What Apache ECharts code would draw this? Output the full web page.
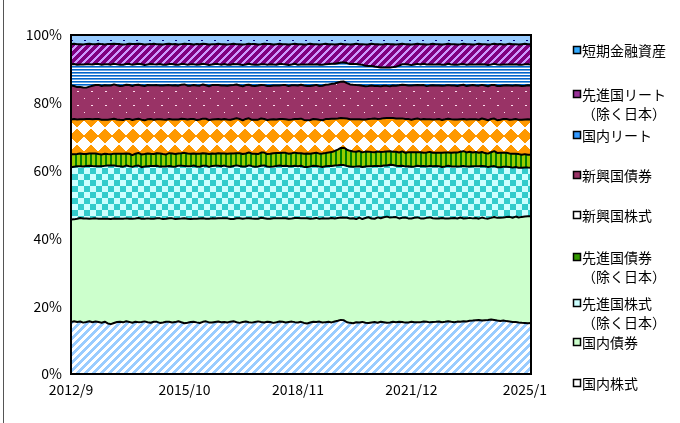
<!DOCTYPE html>
<html><head><meta charset="utf-8">
<script src="https://cdn.jsdelivr.net/npm/echarts@6/dist/echarts.min.js"></script>
<style>html,body{margin:0;padding:0;background:#fff}#c{width:680px;height:423px}</style>
</head><body><div id="c"></div>
<script>
// ---- data (monthly, 2012/9 .. 2025/3), asset allocation in % ----
const startYear = 2012, startMonth = 9, monthCount = 151;
const tickLabels = ['2012/9','2015/10','2018/11','2021/12','2025/1'];
const yTicks = ['0%','20%','40%','60%','80%','100%'];

const seriesNames = ['国内株式','国内債券','先進国株式（除く日本）','先進国債券（除く日本）','新興国株式','新興国債券','国内リート','先進国リート（除く日本）','短期金融資産'];
const legendLabels = ['国内株式','国内債券','先進国株式\n（除く日本）','先進国債券\n（除く日本）','新興国株式','新興国債券','国内リート','先進国リート\n（除く日本）','短期金融資産'];

const domesticEquity = [
15.3,15.6,15.4,15.5,15.2,15.4,15.6,15.3,15.5,15.4,15.2,15.5,
15.0,14.8,15.1,15.4,15.5,15.3,15.6,15.4,15.2,15.5,15.3,15.4,
15.6,15.3,15.2,15.5,15.4,15.1,15.3,15.5,15.4,15.2,15.4,15.6,
15.3,15.0,15.2,15.4,15.5,15.3,15.1,15.4,15.6,15.3,15.2,15.4,
15.5,15.3,15.4,15.2,15.5,15.6,15.3,15.1,15.4,15.5,15.3,15.2,
15.4,15.6,15.3,15.2,15.5,15.4,15.1,15.3,15.5,15.4,15.2,15.4,
15.5,15.3,15.2,15.4,15.1,14.9,15.2,15.4,15.3,15.5,15.2,15.3,
15.4,15.2,15.5,15.7,15.9,15.8,15.3,15.1,15.0,15.3,15.2,15.4,
15.1,15.0,15.2,15.3,15.1,15.4,15.2,15.0,15.1,15.3,15.2,15.4,
15.3,15.1,15.2,15.4,15.3,15.2,15.3,15.5,15.4,15.2,15.3,15.4,
15.5,15.3,15.4,15.6,15.4,15.3,15.5,15.4,15.6,15.5,15.7,15.8,
15.9,16.0,15.8,15.9,16.0,16.1,15.9,15.8,15.7,15.8,15.6,15.5,
15.4,15.3,15.2,15.1,15.0,14.9,15.0];
const domesticBond = [
30.3,30.2,30.5,30.6,30.8,30.7,30.4,30.6,30.5,30.6,30.8,30.5,
31.0,31.2,30.9,30.6,30.5,30.7,30.4,30.5,30.8,30.6,30.7,30.6,
30.4,30.7,30.8,30.5,30.6,30.9,30.7,30.5,30.6,30.8,30.6,30.4,
30.7,31.0,30.8,30.5,30.5,30.7,30.9,30.6,30.4,30.7,30.8,30.6,
30.5,30.7,30.6,30.8,30.4,30.3,30.7,30.9,30.6,30.5,30.7,30.8,
30.6,30.4,30.7,30.8,30.5,30.6,30.9,30.7,30.5,30.6,30.8,30.6,
30.5,30.7,30.8,30.6,30.9,31.0,30.7,30.5,30.7,30.4,30.8,30.6,
30.5,30.8,30.4,30.3,30.1,30.2,30.9,30.8,31.0,30.5,30.9,30.4,
30.9,31.1,30.6,30.4,31.0,30.5,30.8,31.1,30.7,30.6,30.9,30.4,
30.6,30.9,30.7,30.5,30.8,30.9,30.6,30.4,30.7,30.9,30.6,30.5,
30.4,30.8,30.5,30.3,30.6,30.8,30.5,30.7,30.3,30.5,30.4,30.2,
30.2,30.0,30.3,30.1,30.1,30.0,30.3,30.4,30.6,30.4,30.7,30.9,
30.8,31.0,30.9,31.2,31.3,31.5,31.5];
const developedEquity = [
15.4,15.6,15.5,15.3,15.4,15.6,15.7,15.5,15.4,15.6,15.5,15.7,
15.8,15.9,15.7,15.6,15.5,15.4,15.6,15.5,15.4,15.6,15.5,15.3,
15.5,15.4,15.6,15.7,15.5,15.3,15.6,15.5,15.4,15.3,15.5,15.7,
15.6,15.4,15.5,15.6,15.8,15.5,15.3,15.5,15.7,15.4,15.5,15.6,
15.5,15.4,15.6,15.3,15.5,15.7,15.6,15.4,15.5,15.3,15.6,15.5,
15.4,15.5,15.3,15.6,15.5,15.4,15.3,15.5,15.6,15.4,15.5,15.6,
15.5,15.4,15.3,15.5,15.2,15.1,15.4,15.6,15.3,15.5,15.2,15.4,
15.5,15.3,15.6,15.5,15.4,15.5,15.3,15.4,15.2,15.5,15.1,15.4,
15.2,15.0,15.4,15.5,15.1,15.3,15.2,15.0,15.4,15.3,15.1,15.4,
15.3,15.0,15.4,15.3,15.1,15.2,15.4,15.5,15.2,15.1,15.3,15.5,
15.4,15.1,15.4,15.6,15.3,15.2,15.4,15.1,15.5,15.3,15.2,15.4,
15.3,15.5,15.2,15.4,15.3,15.2,15.0,15.0,14.9,15.0,14.8,14.7,
14.8,14.6,14.7,14.5,14.4,14.3,14.3];
const developedBond = [
3.8,3.7,3.6,3.8,3.7,3.5,3.6,3.7,3.8,3.6,3.5,3.6,
3.4,3.3,3.5,3.6,3.7,3.8,3.6,3.7,3.5,3.6,3.7,3.8,
3.7,3.8,3.6,3.5,3.7,3.9,3.7,3.6,3.8,3.9,3.8,3.6,
3.7,3.9,3.8,3.7,3.6,3.8,3.9,3.7,3.6,3.8,3.7,3.6,
3.7,3.8,3.6,3.8,3.9,3.7,3.6,3.8,3.7,3.9,3.8,3.7,
3.8,3.7,3.9,3.8,3.7,3.8,3.9,3.8,3.7,3.9,3.8,3.7,
3.8,3.9,3.8,3.7,3.9,4.0,3.8,3.7,3.9,3.8,4.0,3.9,
4.0,4.1,4.3,4.6,5.0,5.1,4.8,4.6,4.5,4.4,4.5,4.3,
4.4,4.3,4.2,4.1,4.3,4.2,4.0,4.1,4.0,3.9,4.1,4.0,
4.2,4.0,4.1,4.3,4.2,4.0,4.1,3.9,4.1,4.2,4.0,3.9,
4.0,4.2,4.1,3.9,4.0,4.2,4.1,4.3,4.4,4.2,4.3,4.1,
4.2,4.0,4.1,3.9,4.0,4.2,4.4,4.2,4.3,4.1,4.2,4.0,
4.1,3.9,4.0,3.8,3.9,3.8,3.8];
const emergingEquity = [
10.3,10.4,10.2,10.1,10.3,10.4,10.2,10.1,10.2,10.4,10.3,10.1,
10.2,10.4,10.3,10.2,10.1,10.0,10.2,10.3,10.4,10.2,10.1,10.3,
10.0,10.1,10.3,10.2,10.0,10.1,10.2,10.3,10.1,10.0,10.2,10.1,
10.2,10.0,10.1,10.3,10.2,10.0,10.1,10.2,10.3,10.1,10.0,10.2,
10.1,10.0,10.2,10.1,10.0,10.2,10.3,10.1,10.0,10.2,10.1,10.0,
10.1,10.2,10.0,9.9,10.1,10.2,10.0,9.9,10.1,10.0,9.9,10.1,
10.0,9.9,10.1,10.2,10.0,9.8,10.0,10.1,9.9,10.0,9.8,10.0,
9.9,9.8,9.5,9.2,8.8,8.7,9.2,9.3,9.5,9.6,9.4,9.7,
9.5,9.6,9.8,9.9,9.6,9.8,9.9,9.8,9.7,9.9,9.8,10.0,
9.7,9.9,9.8,9.6,9.8,9.9,9.7,10.0,9.8,9.6,9.8,9.9,
9.9,9.7,9.8,10.0,9.9,9.7,9.8,9.6,9.5,9.7,9.6,9.8,
9.7,9.8,9.9,10.0,9.9,9.8,9.6,9.7,9.8,10.0,9.9,10.0,
10.1,10.2,10.1,10.3,10.2,10.4,10.4];
const emergingBond = [
10.0,9.8,9.6,9.5,9.4,9.3,9.6,9.9,10.0,10.1,10.0,10.2,
10.1,10.0,10.2,10.1,10.0,10.2,10.1,10.0,10.1,10.2,10.0,10.1,
10.2,10.1,10.0,10.2,10.1,10.0,10.1,10.2,10.0,10.1,10.2,10.0,
10.1,10.2,10.0,9.9,10.1,10.2,10.0,10.1,9.9,10.0,10.2,10.1,
10.0,10.1,9.9,10.0,10.2,10.1,10.0,9.9,10.1,10.0,9.9,10.1,
10.0,10.1,9.9,10.0,10.1,9.9,10.0,10.1,9.9,10.0,10.1,10.0,
10.1,10.0,9.9,10.0,10.2,10.1,10.0,9.9,10.1,10.0,10.2,10.1,
10.2,10.3,10.4,10.6,10.7,10.8,10.5,10.3,10.2,10.1,10.0,10.0,
9.8,9.7,9.8,9.6,9.7,9.6,9.5,9.4,9.3,9.5,9.6,9.8,
9.9,10.0,9.9,10.1,10.0,9.9,10.1,10.0,9.8,9.9,10.1,10.0,
9.9,10.1,10.0,9.9,10.0,10.1,9.9,10.0,10.1,9.9,10.0,10.1,
10.0,10.1,9.9,10.0,10.1,10.0,9.9,10.1,10.0,9.9,10.0,10.1,
10.0,9.9,10.1,10.0,9.9,10.0,10.0];
const domesticReit = [
6.3,6.5,6.6,6.7,6.8,6.9,6.6,6.3,6.2,6.2,6.3,6.2,
6.3,6.2,6.1,6.2,6.3,6.2,6.1,6.2,6.3,6.1,6.2,6.3,
6.2,6.1,6.3,6.2,6.1,6.3,6.2,6.1,6.2,6.3,6.1,6.2,
6.1,6.0,6.2,6.3,6.1,6.2,6.3,6.1,6.2,6.3,6.1,6.2,
6.2,6.1,6.3,6.2,6.1,6.2,6.0,6.2,6.3,6.1,6.2,6.3,
6.3,6.2,6.1,6.2,6.3,6.4,6.2,6.1,6.3,6.2,6.1,6.2,
6.2,6.3,6.1,6.0,6.2,6.3,6.4,6.2,6.1,6.3,6.2,6.1,
6.0,5.9,5.8,5.7,5.6,5.6,5.9,6.0,6.1,6.2,6.1,6.2,
6.0,5.9,5.8,5.7,5.6,5.5,5.4,5.4,5.5,5.4,5.6,5.8,
6.0,6.1,6.2,6.0,6.1,6.2,6.1,6.3,6.4,6.2,6.1,6.2,
6.3,6.2,6.1,6.3,6.2,6.1,6.3,6.2,6.1,6.3,6.2,6.1,
6.2,6.3,6.1,6.2,6.3,6.1,6.2,6.4,6.3,6.2,6.1,6.2,
6.3,6.2,6.1,6.2,6.3,6.2,6.2];
const developedReit = [
5.9,6.0,6.1,6.0,5.9,6.0,6.1,6.0,5.9,6.0,6.1,5.9,
6.0,6.1,5.9,6.0,6.1,6.0,5.9,6.0,6.1,6.0,5.9,6.0,
6.1,6.0,5.9,6.1,6.0,5.9,6.0,6.1,6.0,5.9,6.1,6.0,
5.9,6.0,6.1,6.0,5.9,6.1,6.0,5.9,6.0,6.1,6.0,5.9,
6.0,6.1,5.9,6.0,6.1,6.0,5.9,6.0,6.1,6.0,5.9,6.0,
6.1,6.0,5.9,6.0,6.1,6.0,5.9,6.1,6.0,5.9,6.0,6.1,
6.0,5.9,6.1,6.0,5.9,6.0,6.1,6.0,5.9,6.0,6.1,6.0,
5.9,5.8,5.7,5.6,5.5,5.4,5.6,5.8,5.9,6.0,6.0,6.1,
6.3,6.4,6.5,6.6,6.7,6.8,6.8,6.9,6.8,6.7,6.5,6.3,
6.0,5.9,6.0,6.1,6.0,5.9,6.0,5.8,5.9,6.0,6.1,6.0,
5.9,6.0,6.1,5.9,6.0,6.1,6.0,5.9,6.0,6.1,6.0,5.9,
6.0,6.1,5.9,6.0,6.1,6.0,5.9,6.0,6.1,5.9,6.0,6.1,
6.0,5.9,6.0,6.1,6.0,5.9,6.0];
const shortTerm = [
2.7,2.6,2.7,2.7,2.8,2.7,2.6,2.7,2.7,2.6,2.7,2.8,
2.7,2.7,2.6,2.7,2.7,2.8,2.7,2.6,2.7,2.7,2.6,2.7,
2.8,2.7,2.7,2.6,2.7,2.7,2.8,2.7,2.6,2.7,2.7,2.8,
2.7,2.6,2.7,2.7,2.8,2.7,2.7,2.6,2.7,2.8,2.7,2.7,
2.6,2.7,2.7,2.8,2.7,2.6,2.7,2.7,2.8,2.7,2.6,2.7,
2.7,2.8,2.7,2.6,2.7,2.7,2.8,2.7,2.6,2.7,2.7,2.8,
2.7,2.6,2.7,2.7,2.8,2.7,2.6,2.7,2.7,2.8,2.7,2.6,
2.7,2.7,2.8,2.7,2.6,2.7,2.7,2.8,2.7,2.6,2.7,2.7,
2.8,2.7,2.6,2.7,2.7,2.8,2.7,2.6,2.7,2.7,2.8,2.7,
2.6,2.7,2.7,2.8,2.7,2.6,2.7,2.7,2.8,2.7,2.6,2.7,
2.7,2.8,2.7,2.6,2.7,2.7,2.8,2.7,2.6,2.7,2.7,2.8,
2.7,2.6,2.7,2.7,2.8,2.7,2.6,2.7,2.7,2.8,2.7,2.6,
2.7,2.7,2.8,2.7,2.6,2.7,2.7];

const rawSeries = [domesticEquity, domesticBond, developedEquity, developedBond, emergingEquity, emergingBond, domesticReit, developedReit, shortTerm];

// ---- categories ----
const categories = [];
for (let i = 0; i < monthCount; i++) {
  const m0 = startMonth - 1 + i;
  categories.push((startYear + Math.floor(m0 / 12)) + '/' + (m0 % 12 + 1));
}
// 100% stacked: normalise each month
const totals = categories.map((_, i) => rawSeries.reduce((s, a) => s + a[i], 0));
const pctSeries = rawSeries.map(a => a.map((v, i) => +(v / totals[i] * 100).toFixed(3)));

// ---- patterns ----
function tile(w, h, colorAt) {
  const c = document.createElement('canvas');
  c.width = w; c.height = h;
  const ctx = c.getContext('2d');
  for (let y = 0; y < h; y++) for (let x = 0; x < w; x++) {
    ctx.fillStyle = colorAt(x, y);
    ctx.fillRect(x, y, 1, 1);
  }
  return { image: c, repeat: 'repeat' };
}
const fills = [
  tile(8, 8, (x, y) => ((x + y) % 8 < 4) ? '#99ccff' : '#ffffff'),
  '#ccffcc',
  tile(12, 12, (x, y) => ((Math.floor(x / 6) + Math.floor(y / 6)) % 2) ? '#33cccc' : '#ccffff'),
  tile(5, 1, (x) => x < 2 ? '#008000' : '#99cc00'),
  tile(14, 16, (x, y) => (Math.abs(x + 0.5 - 7) / 7 + Math.abs(y + 0.5 - 8) / 8 < 1) ? '#ff9900' : '#ffffff'),
  tile(14, 14, (x, y) => ((x === 0 && y === 0) || ((x === 7 || x === 8) && y === 7)) ? '#ffddee' : '#993366'),
  tile(1, 3, (x, y) => ['#0066cc', '#66a3e0', '#ffffff'][y]),
  tile(8, 8, (x, y) => ((x + y) % 8 < 3) ? '#cc99ff' : '#800080'),
  tile(13, 10, (x, y) => (y === 0 && (x === 6 || x === 7)) ? '#000080' : '#99ccff')
];
const iconFills = ['#ffffff', '#ccffcc', '#ccffff', '#339900', '#ffffff', '#993366', '#3399ff', '#993399', '#33aaff'];
const legendY = [383, 342, 303, 257, 215, 175, 135, 94, 50];

const FONT = '"Noto Sans CJK JP", "Noto Sans", sans-serif';
const gl = 71, gt = 35, gr = 531, gb = 374;

const chart = echarts.init(document.getElementById('c'), null, { renderer: 'canvas' });

const graphics = [
  { type: 'line', shape: { x1: 3.5, y1: 0, x2: 3.5, y2: 423 }, style: { stroke: '#555', lineWidth: 1 }, z: 100 },
  { type: 'rect', shape: { x: gl, y: gt, width: gr - gl, height: gb - gt }, style: { fill: null, stroke: '#000', lineWidth: 2 }, z: 100 }
];
legendLabels.forEach((lab, i) => {
  const cy = legendY[i];
  graphics.push({ type: 'rect', shape: { x: 573.5, y: cy - 3.5, width: 7, height: 7 }, style: { fill: iconFills[i], stroke: '#000', lineWidth: 1.5 }, z: 100 });
  graphics.push({ type: 'text', x: 582, y: cy - 9, style: { text: lab, font: '14px ' + FONT, fill: '#000', verticalAlign: 'top', lineHeight: 19 }, z: 100 });
});

chart.setOption({
  animation: false,
  backgroundColor: '#fff',
  grid: { left: gl, top: gt, width: gr - gl, height: gb - gt, containLabel: false },
  xAxis: {
    type: 'category', data: categories, boundaryGap: false,
    axisLine: { lineStyle: { color: '#000', width: 2 } },
    axisTick: { show: true, inside: true, length: 5, interval: 36, lineStyle: { color: '#000', width: 1 } },
    axisLabel: { interval: 36, color: '#000', fontSize: 14, fontFamily: FONT, margin: 9,
      formatter: v => tickLabels.indexOf(v) >= 0 ? v : '' },
    splitLine: { show: false }
  },
  yAxis: {
    type: 'value', min: 0, max: 100, interval: 20,
    axisLine: { show: true, lineStyle: { color: '#000', width: 2 } },
    axisTick: { show: true, inside: true, length: 4, lineStyle: { color: '#000', width: 1 } },
    axisLabel: { color: '#000', fontSize: 14, fontFamily: FONT, margin: 9,
      formatter: v => yTicks[Math.round(v / 20)] },
    splitLine: { show: false }
  },
  series: seriesNames.map((name, k) => ({
    name, type: 'line', stack: 'total', symbol: 'none', showSymbol: false,
    z: 2 + (seriesNames.length - k),
    lineStyle: { color: '#000', width: 2 },
    areaStyle: { color: fills[k], opacity: 1 },
    data: pctSeries[k]
  })),
  graphic: graphics
});
</script>
</body></html>
